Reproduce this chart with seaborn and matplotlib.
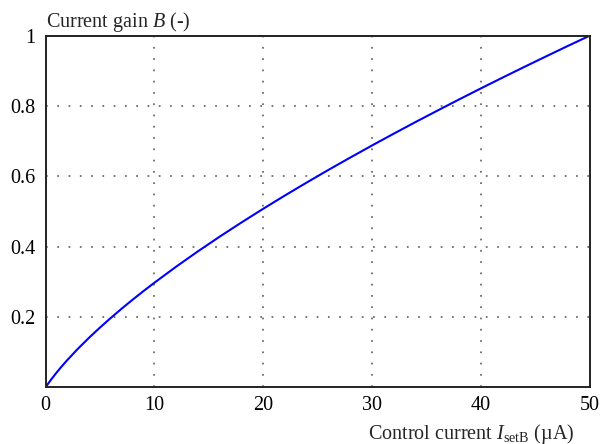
import numpy as np
import pandas as pd
import matplotlib
matplotlib.use("Agg")
import matplotlib.pyplot as plt
import seaborn as sns

# Data
current_uA = [0, 0.5, 1, 1.5, 2, 3, 4, 5, 6, 7, 8, 9, 10, 12, 14, 16, 18, 20, 22,
              24, 26, 28, 30, 32, 34, 36, 38, 40, 42, 44, 46, 48, 50]
gain = [0, 0.0214, 0.0412, 0.0598, 0.0774, 0.1103, 0.1409, 0.1698, 0.1973,
        0.2237, 0.2491, 0.2736, 0.2973, 0.3430, 0.3866, 0.4284, 0.4687, 0.5077,
        0.5456, 0.5824, 0.6184, 0.6534, 0.6878, 0.7214, 0.7545, 0.7868, 0.8187,
        0.8501, 0.8809, 0.9113, 0.9413, 0.9710, 1.0]
xticks = [0, 10, 20, 30, 40, 50]
yticks = [0.2, 0.4, 0.6, 0.8, 1.0]
ytick_labels = ["0.2", "0.4", "0.6", "0.8", "1"]

sns.set_theme(style="white")
plt.rcParams["font.family"] = ["Liberation Serif", "DejaVu Serif"]
plt.rcParams["mathtext.fontset"] = "custom"
plt.rcParams["mathtext.rm"] = "Liberation Serif"
plt.rcParams["mathtext.it"] = "Liberation Serif:italic"

df = pd.DataFrame({"I": current_uA, "B": gain})

W, H = 601, 444
L, R, T, Bt = 45.5, 589.7, 35.7, 387.3
fig = plt.figure(figsize=(W / 100, H / 100), dpi=100)
ax = fig.add_axes([L / W, 1 - Bt / H, (R - L) / W, (Bt - T) / H])
sns.lineplot(data=df, x="I", y="B", ax=ax, color="#0000ff", linewidth=1.5)

ax.set_xlim(0, 50)
ax.set_ylim(0, 1)
ax.set_xticks(xticks)
ax.set_xticklabels([str(t) for t in xticks], fontsize=14.5)
ax.set_yticks(yticks)
ax.set_yticklabels(ytick_labels, fontsize=14.5)
ax.tick_params(axis="x", length=0, pad=6, colors="black")
ax.tick_params(axis="y", length=0, pad=7, colors="black")
ax.set_xlabel("")
ax.set_ylabel("")
ax.grid(True, linestyle=(0, (0.9, 4.9)), color="#777777", linewidth=1.4)
for s in ax.spines.values():
    s.set_color("#222222")
    s.set_linewidth(1.4)

fig.text(L / W, 1 - 26.5 / H, "Current gain $\\mathit{B}$ (-)", fontsize=14.5,
         ha="left", va="baseline")
fig.text(574 / W, 1 - 438.5 / H,
         "Control current $\\mathit{I}_{\\mathrm{setB}}$ (\u00b5A)", fontsize=14.5,
         ha="right", va="baseline")

fig.savefig("out.png", dpi=100)
